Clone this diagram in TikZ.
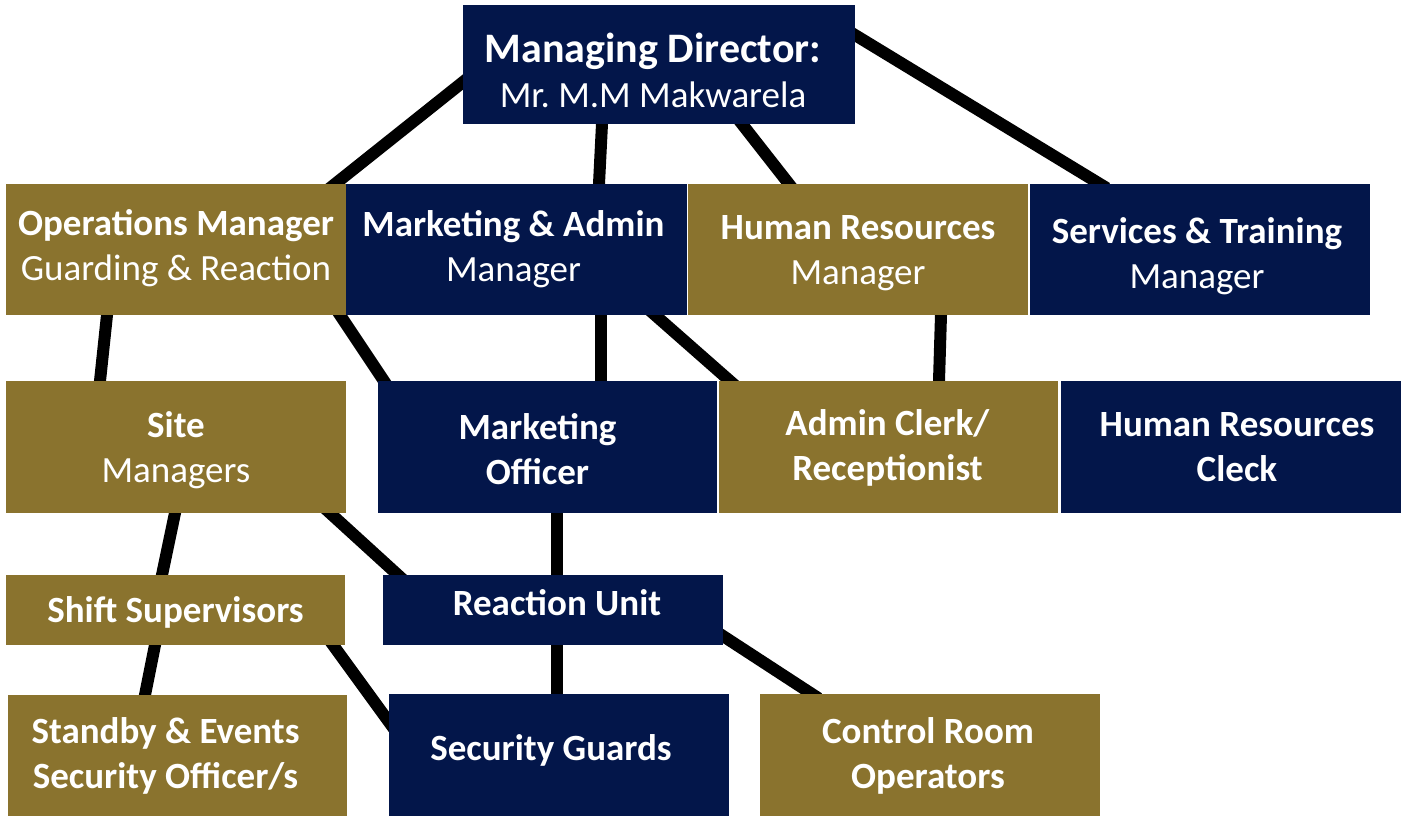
\documentclass[tikz,border=0pt]{standalone}
\usepackage{fontspec}
\setmainfont{Carlito}
\usetikzlibrary{backgrounds}
\definecolor{navy}{HTML}{03164A}
\definecolor{gold}{HTML}{8A732E}
\tikzset{
  box/.style={inner sep=0pt, outer sep=0pt},
  nbox/.style={box, fill=navy},
  gbox/.style={box, fill=gold},
  txt/.style={inner sep=0pt, text=white, align=center,
    font=\fontsize{18.5}{22.5}\selectfont},
  conn/.style={line width=6pt, black, shorten <=-4pt, shorten >=-4pt}
}
\begin{document}
\begin{tikzpicture}[x=0.5pt,y=-0.5pt]
\useasboundingbox (0,0) rectangle (1405,816);
% boxes
\node[nbox, minimum width=196pt, minimum height=59.5pt] (md) at (659,64.5) {};
\node[gbox, minimum width=170pt, minimum height=65.5pt] (ops) at (176,249.5) {};
\node[nbox, minimum width=170.5pt, minimum height=65.5pt] (mkt) at (516.5,249.5) {};
\node[gbox, minimum width=170pt, minimum height=65.5pt] (hr) at (858,249.5) {};
\node[nbox, minimum width=170pt, minimum height=65.5pt] (svc) at (1200,249.5) {};
\node[gbox, minimum width=170pt, minimum height=66pt] (site) at (176,447) {};
\node[nbox, minimum width=169.5pt, minimum height=66pt] (mko) at (547.5,447) {};
\node[gbox, minimum width=169.5pt, minimum height=66pt] (adm) at (888.5,447) {};
\node[nbox, minimum width=170pt, minimum height=66pt] (hrc) at (1231,447) {};
\node[gbox, minimum width=169.5pt, minimum height=35pt] (shift) at (175.5,610) {};
\node[nbox, minimum width=170pt, minimum height=35pt] (ru) at (553,610) {};
\node[gbox, minimum width=169.5pt, minimum height=60.5pt] (stb) at (177.5,755.5) {};
\node[nbox, minimum width=170pt, minimum height=61pt] (sg) at (559,755) {};
\node[gbox, minimum width=170pt, minimum height=61pt] (cr) at (930,755) {};
% texts
\node[txt] (mdt) at ([shift={(-6,6)}]md.center)
  {{\fontsize{21}{26}\selectfont\bfseries Managing Director:}\\{\fontsize{18.5}{22}\selectfont Mr.\ M.M Makwarela}};
\node[txt] (opst) at ([shift={(0,-1)}]ops.center) {\textbf{Operations Manager}\\Guarding \& Reaction};
\node[txt] (mktt) at ([shift={(-3,0)}]mkt.center) {\textbf{Marketing \& Admin}\\Manager};
\node[txt] (hrt) at ([shift={(0,4)}]hr.center) {\textbf{Human Resources}\\Manager};
\node[txt] (svct) at ([shift={(-3,7)}]svc.center) {\textbf{Services \& Training}\\Manager};
\node[txt] (sitet) at ([shift={(0,3)}]site.center) {\textbf{Site}\\Managers};
\node[txt] (mkot) at ([shift={(-10,2)}]mko.center) {\textbf{Marketing}\\\textbf{Officer}};
\node[txt] (admt) at ([shift={(-1,1)}]adm.center) {\textbf{Admin Clerk/}\\\textbf{Receptionist}};
\node[txt] (hrct) at ([shift={(6,0)}]hrc.center) {\textbf{Human Resources}\\\textbf{Cleck}};
\node[txt] (shiftt) at ([shift={(0,2)}]shift.center) {\textbf{Shift Supervisors}};
\node[txt] (rut) at ([shift={(4,-7)}]ru.center) {\textbf{Reaction Unit}};
\node[txt] (stbt) at ([shift={(-12,0)}]stb.center) {\textbf{Standby \& Events}\\\textbf{Security Officer/s}};
\node[txt] (sgt) at ([shift={(-8,-5)}]sg.center) {\textbf{Security Guards}};
\node[txt] (crt) at ([shift={(-2,1)}]cr.center) {\textbf{Control Room}\\\textbf{Operators}};
% connectors
\begin{pgfonlayer}{background}
\draw[conn] ([shift={(0,77)}]md.north west) -- ([shift={(-11,0)}]ops.north east);
\draw[conn] ([shift={(139,0)}]md.south west) -- ([shift={(253,0)}]mkt.north west);
\draw[conn] ([shift={(279,0)}]md.south west) -- ([shift={(101,0)}]hr.north west);
\draw[conn] ([shift={(0,30)}]md.north east) -- ([shift={(70,0)}]svc.north west);
\draw[conn] ([shift={(101,0)}]ops.south west) -- ([shift={(94,0)}]site.north west);
\draw[conn] ([shift={(-6,0)}]ops.south east) -- ([shift={(6,0)}]mko.north west);
\draw[conn] ([shift={(255,0)}]mkt.south west) -- ([shift={(223,0)}]mko.north west);
\draw[conn] ([shift={(309,0)}]mkt.south west) -- ([shift={(11,0)}]adm.north west);
\draw[conn] ([shift={(253,0)}]hr.south west) -- ([shift={(220,0)}]adm.north west);
\draw[conn] ([shift={(169,0)}]site.south west) -- ([shift={(156,0)}]shift.north west);
\draw[conn] ([shift={(324,0)}]site.south west) -- ([shift={(15,0)}]ru.north west);
\draw[conn] ([shift={(179,0)}]mko.south west) -- ([shift={(174,0)}]ru.north west);
\draw[conn] ([shift={(149,0)}]shift.south west) -- ([shift={(137,0)}]stb.north west);
\draw[conn] ([shift={(-12,0)}]shift.south east) -- ([shift={(0,28)}]sg.north west);
\draw[conn] ([shift={(174,0)}]ru.south west) -- ([shift={(168,0)}]sg.north west);
\draw[conn] ([shift={(0,61)}]ru.north east) -- ([shift={(52,0)}]cr.north west);
\end{pgfonlayer}
\end{tikzpicture}
\end{document}
